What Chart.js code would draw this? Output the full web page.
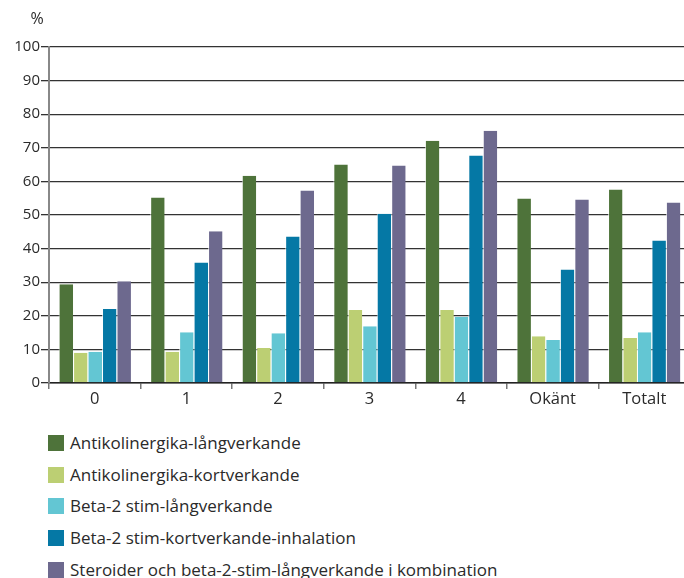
<!DOCTYPE html>
<html>
<head>
<meta charset="utf-8">
<script src="https://cdn.jsdelivr.net/npm/chart.js@4.4.1/dist/chart.umd.min.js"></script>
<style>
  body { margin: 0; width: 684px; height: 578px; overflow: hidden; background: #fff; font-family: "Open Sans", sans-serif; color: #2a2a2a; }
  #wrap { position: absolute; left: 0; top: 0; width: 690px; height: 412px; }
  #legend { position: absolute; left: 48px; top: 432px; margin: 0; padding: 0; list-style: none; }
  #legend li { height: 31.7px; font-size: 17px; line-height: 22px; display: flex; align-items: flex-start; white-space: nowrap; }
  #legend span.box { width: 16px; height: 16px; margin-right: 6px; margin-top: 3px; display: inline-block; flex: none; }
</style>
</head>
<body>
<div id="wrap"><canvas id="chart"></canvas></div>
<ul id="legend"></ul>
<script>
const categories = ['0', '1', '2', '3', '4', 'Okänt', 'Totalt'];
const seriesNames = [
  'Antikolinergika-långverkande',
  'Antikolinergika-kortverkande',
  'Beta-2 stim-långverkande',
  'Beta-2 stim-kortverkande-inhalation',
  'Steroider och beta-2-stim-långverkande i kombination'
];
const antikolLang = [29.4, 55.2, 61.7, 65.0, 72.1, 54.9, 57.6];
const antikolKort = [9.0, 9.3, 10.4, 21.7, 21.7, 13.9, 13.4];
const betaLang = [9.3, 15.1, 14.8, 16.9, 19.7, 12.8, 15.1];
const betaKortInh = [22.0, 35.9, 43.6, 50.4, 67.7, 33.8, 42.4];
const steroidKomb = [30.3, 45.2, 57.3, 64.7, 75.1, 54.6, 53.7];
const colors = ['#4e733a', '#bccf73', '#63c6d3', '#0578a5', '#6d698e'];
const yTicks = [0, 10, 20, 30, 40, 50, 60, 70, 80, 90, 100];

const seriesValues = [antikolLang, antikolKort, betaLang, betaKortInh, steroidKomb];

// "%" above the y axis
const unitLabel = {
  id: 'unitLabel',
  afterDraw(chart) {
    const ctx = chart.ctx;
    ctx.save();
    ctx.font = '16px "Open Sans"';
    ctx.fillStyle = '#2a2a2a';
    ctx.textAlign = 'center';
    ctx.textBaseline = 'middle';
    ctx.fillText('%', 37, 19);
    ctx.restore();
  }
};

new Chart(document.getElementById('chart').getContext('2d'), {
  type: 'bar',
  data: {
    labels: categories,
    datasets: seriesNames.map((name, i) => ({
      label: name,
      data: seriesValues[i],
      backgroundColor: colors[i],
      borderColor: 'rgba(255,255,255,0.7)',
      borderWidth: { left: 1, right: 0, top: 0, bottom: 0 },
      borderSkipped: false,
      barPercentage: 1,
      categoryPercentage: 0.79
    }))
  },
  options: {
    animation: false,
    responsive: true,
    maintainAspectRatio: false,
    layout: { padding: { top: 47, right: 0, left: 0, bottom: 0 } },
    plugins: { legend: { display: false }, tooltip: { enabled: false } },
    scales: {
      x: {
        grid: { display: true, drawOnChartArea: false, drawTicks: true, tickLength: 6, color: '#777', lineWidth: 1.5, offset: true },
        border: { display: true, color: '#222', width: 1.5 },
        ticks: { color: '#2a2a2a', font: { family: 'Open Sans', size: 16.5 }, padding: 0 },
        afterFit(scale) { scale.height = 29; }
      },
      y: {
        min: 0,
        max: 100,
        afterBuildTicks(scale) { scale.ticks = yTicks.map(v => ({ value: v })); },
        grid: { color: '#333', lineWidth: 1.3, drawTicks: true, tickLength: 8 },
        border: { display: true, color: '#888', width: 2 },
        ticks: { color: '#2a2a2a', font: { family: 'Open Sans', size: 15 }, padding: 1 },
        afterFit(scale) { scale.width = 49; }
      }
    }
  },
  plugins: [unitLabel]
});

// legend list, one item per row
const legend = document.getElementById('legend');
seriesNames.forEach((name, i) => {
  const li = document.createElement('li');
  li.innerHTML = `<span class="box" style="background:${colors[i]}"></span>${name}`;
  legend.appendChild(li);
});
</script>
</body>
</html>
